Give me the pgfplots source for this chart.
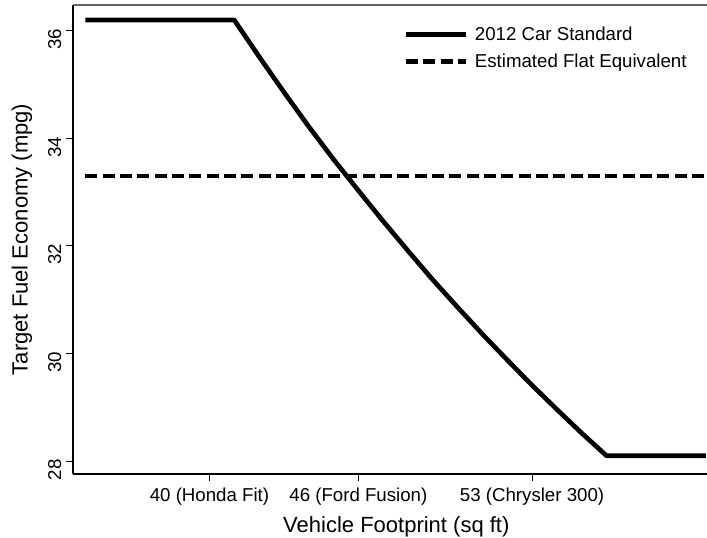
\documentclass[border=0pt]{standalone}
\usepackage{pgfplots}
\pgfplotsset{compat=1.18}
\usepackage{fontspec}
\setmainfont{Liberation Sans}

% 1 px of the reference = 0.75pt
\newcommand{\tickfont}{\fontsize{14}{16}\selectfont}
\newcommand{\labfont}{\fontsize{16.5}{19}\selectfont}

\begin{document}
\begin{tikzpicture}
  \begin{axis}[
      name=ax,
      scale only axis,
      width=475.5pt, height=351.75pt,
      xmin=34.5, xmax=60.05,
      ymin=27.76, ymax=36.48,
      axis x line*=bottom,
      axis y line*=left,
      axis line style={-, line width=0.9pt},
      tick style={line width=0.8pt, black},
      tick align=outside,
      major tick length=5.25pt,
      /pgf/number format/assume math mode=true,
      tick label style={font=\tickfont},
      xtick={40,46,53},
      xticklabels={40 (Honda Fit),46 (Ford Fusion),53 (Chrysler 300)},
      xticklabel style={yshift=-1.5pt},
      ytick={28,30,32,34,36},
      yticklabel style={rotate=90, anchor=south, xshift=-6.5pt},
      xlabel={Vehicle Footprint (sq ft)},
      ylabel={Target Fuel Economy (mpg)},
      every axis x label/.style={at={(axis description cs:0.51,-0.112)}, anchor=center, font=\labfont},
      every axis y label/.style={at={(axis description cs:-0.0804,0.5)}, rotate=90, anchor=center, font=\labfont},
      legend style={at={(axis description cs:0.521,0.96)}, anchor=north west, draw=none, fill=none,
        font=\tickfont, row sep=4.5pt, inner sep=0pt,
        nodes={inner sep=2pt}},
      legend cell align=left,
      legend image code/.code={\draw[#1] (0pt,0pt) -- (45pt,0pt); \path (48pt,0pt);},
    ]
    \addplot[black, line width=3.5pt, line join=round] coordinates {
      (35,36.20) (41,36.20) (42,35.52) (43,34.86) (44,34.22) (45,33.61)
      (46,33.03) (47,32.46) (48,31.91) (49,31.37) (50,30.86) (51,30.36)
      (52,29.88) (53,29.41) (54,28.96) (55,28.52) (56,28.10) (60,28.10)
    };
    \addlegendentry{2012 Car Standard}
    \addplot[black, line width=3.5pt, dash pattern=on 9pt off 4pt] coordinates {
      (35,33.3) (60,33.3)
    };
    \addlegendentry{Estimated Flat Equivalent}
    \draw[black!60, line width=1pt] (rel axis cs:0,1) -- (rel axis cs:1,1);
  \end{axis}
  \pgfresetboundingbox
  \path ([xshift=-54.75pt,yshift=-48pt]ax.south west) rectangle ([yshift=3.75pt]ax.north east);
\end{tikzpicture}
\end{document}
